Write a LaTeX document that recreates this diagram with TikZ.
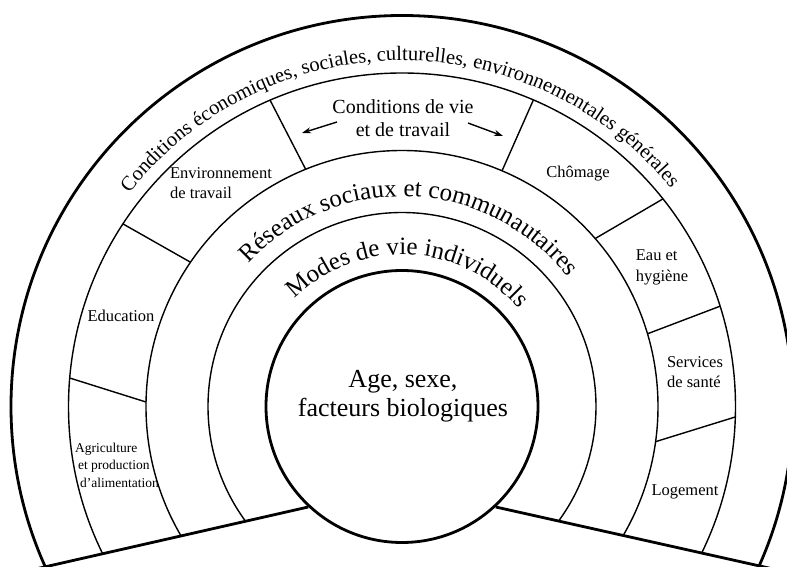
\documentclass[tikz,border=0pt]{standalone}
\usepackage{fontspec}
\setmainfont{Liberation Serif}
\usetikzlibrary{arrows.meta,decorations.text,positioning}
\tikzset{
  thickline/.style={line width=2.8pt},
  thinline/.style={line width=1.4pt},
  smalllabel/.style={font=\fontsize{16.5}{20.5}\selectfont,align=left,inner sep=0pt},
  tinylabel/.style={font=\fontsize{13.5}{17.5}\selectfont,align=left,inner sep=0pt},
  midlabel/.style={font=\fontsize{20}{23}\selectfont,align=center,inner sep=0pt},
  biglabel/.style={font=\fontsize{26}{28.5}\selectfont,align=center,inner sep=0pt},
  ringtext/.style={decorate,decoration={text along path,text align=center,text={#1}}}
}

\begin{document}
\begin{tikzpicture}[x=1pt,y=1pt]
  \useasboundingbox (-402,-160.5) rectangle (385,406.5);
  % rings cut by the base lines
  \coordinate (bl) at (-402,-170.6);
  \coordinate (br) at (385,-165.6);
  \begin{scope}
    \clip (bl) -- (227:136) -- (313:136) -- (br) -- (385,406.5) -- (-402,406.5) -- cycle;
    \draw[thickline] (0,0) circle (391);
    \foreach \r in {333.5,256,194} \draw[thinline] (0,0) circle (\r);
  \end{scope}
  \node[circle,draw,thickline,minimum size=272,inner sep=0pt] (core) at (0,0) {};
  \draw[thickline] (core.227) -- (bl);
  \draw[thickline] (core.313) -- (br);
  % sector borders
  \foreach \a/\b in {113.3/112.1,146.8/145.7,175.1/179,66.8/67,38.5/41,17.5/16.5,-1.8/-7.9}
    \draw[thinline] (\a:333.5) -- (\b:256);
  % ring texts
  \path[ringtext={|\fontsize{20.5}{24}\selectfont|Conditions économiques, sociales, culturelles, environnementales générales}]
    (165:346) arc[start angle=165,end angle=16,radius=346];
  \path[ringtext={|\fontsize{25}{30}\selectfont|Réseaux sociaux et communautaires}]
    (157.5:210) arc[start angle=157.5,end angle=17.5,radius=210];
  \path[ringtext={|\fontsize{25}{30}\selectfont|Modes de vie individuels}]
    (157.5:152) arc[start angle=157.5,end angle=17.5,radius=152];
  % labels
  \node[biglabel] (age) at (1,10.5) {Age, sexe,\\facteurs biologiques};
  \node[midlabel] (vie) at (1,288) {Conditions de vie\\et de travail};
  \node[smalllabel] (envir) at (-181,223.5) {Environnement\\de travail};
  \node[smalllabel] (educ) at (-281,90.5) {Education};
  \node[tinylabel] (agri) at (-285,-58.5) {Agriculture\\\hspace*{3pt}et production\\\hspace*{5pt}d'alimentation};
  \node[smalllabel] (chom) at (176,232.5) {Chômage};
  \node[smalllabel] (eau) at (260,139) {Eau et\\hygiène};
  \node[smalllabel] (serv) at (293,34.5) {Services\\de santé};
  \node[smalllabel] (loge) at (283,-85.5) {Logement};
  % arrows
  \coordinate (la) at (-65,284.5);
  \coordinate (lb) at (-100,273.5);
  \coordinate (ra) at (66,283.5);
  \coordinate (rb) at (101,270.5);
  \draw[thinline,-{Stealth[length=9pt,width=6pt]}] (la) -- (lb);
  \draw[thinline,-{Stealth[length=9pt,width=6pt]}] (ra) -- (rb);
\end{tikzpicture}
\end{document}
